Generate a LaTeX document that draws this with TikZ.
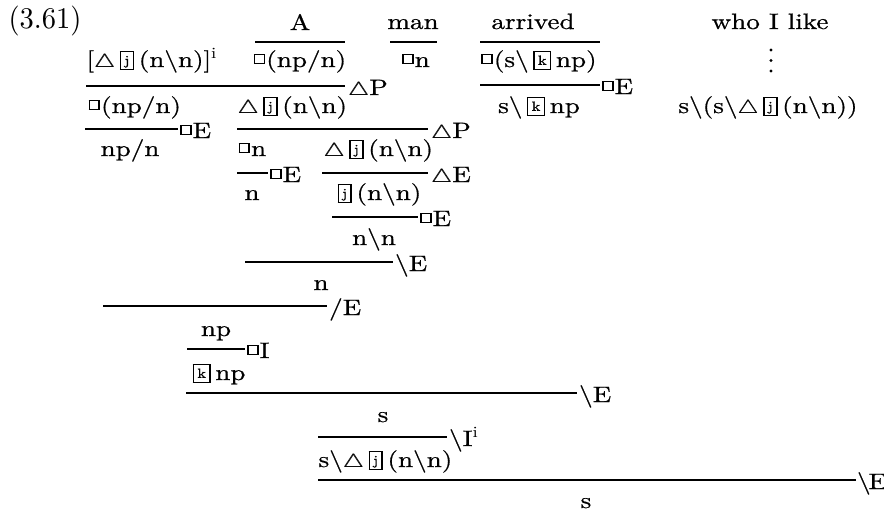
\documentclass[tikz,border=0pt]{standalone}
\usepackage{graphicx}
\usepackage{fontspec}
\setmainfont{lmroman10-regular}[Extension=.otf,BoldFont=lmroman10-regular,BoldFeatures={FakeBold=0.6}]
\newcommand\bs{\textbackslash}
\newcommand\T[1]{\scalebox{0.95}[0.78]{\bfseries #1}}
\newcommand\sq{\raisebox{1.8pt}{\setlength\fboxsep{0pt}\setlength\fboxrule{0.55pt}\fbox{\rule{0pt}{3.6pt}\hspace{3.1pt}}}\hspace{0.4pt}}
\newcommand\tri{\scalebox{0.85}{\rlap{$\triangle$}\kern0.3pt$\triangle$}}
\newcommand\bl[2][4.2pt]{\raisebox{-1pt}{\setlength\fboxsep{0pt}\setlength\fboxrule{0.55pt}\fbox{\makebox[#1][c]{\rule{0pt}{7.6pt}\raisebox{2pt}{\fontsize{6}{7}\selectfont #2}}}}}
\begin{document}
\begin{tikzpicture}[x=0.35pt,y=-0.35pt,
  t/.style={anchor=base,inner sep=0pt,font=\fontsize{10}{12}\selectfont},
  tl/.style={t,anchor=base west},
  rl/.style={line width=0.8pt},
  dot/.style={fill,circle,inner sep=0pt,minimum size=1.1pt},
  lab/.style={anchor=base west,inner sep=0pt,font=\fontsize{10}{12}\selectfont}]
\useasboundingbox (0,0) rectangle (884,516);

% words
\node[tl] (eq) at (8,28) {\scalebox{1}[1.05]{(3.61)}};
\node[t] (wA) at (300,30) {\T{A}};
\node[t] (wman) at (413,29) {\T{man}};
\node[t] (warr) at (533,29) {\T{arrived}};
\node[t] (wwho) at (770,29) {\T{who I like}};
\draw[rl] (255,42) -- (345,42);
\draw[rl] (390,42) -- (437,42);
\draw[rl] (480,42) -- (600,42);

% row 1
\node[tl] (hyp) at (86,67) {\T{[\tri\,\bl{j}\,(n\bs n)]$^{\mathrm{i}}$}};
\node[t] (a1) at (300,67) {\T{\sq(np/n)}};
\node[t] (m1) at (416,67) {\T{\sq n}};
\node[t] (ar1) at (539,67) {\T{\sq(s\bs\,\bl[5.6pt]{k}\,np)}};
\node[dot] (d1) at (771,50) {};
\node[dot] (d2) at (771,60.5) {};
\node[dot] (d3) at (771,71) {};
\draw[rl] (86,86) -- (345,86) node[lab] (l1) at (347,95) {\T{\tri P}};
\draw[rl] (480,85) -- (600,85) node[lab] (l2) at (601,94) {\T{\sq E}};

% row 2
\node[tl] (a2) at (88,113) {\T{\sq(np/n)}};
\node[tl] (h2) at (237,113) {\T{\tri\,\bl{j}\,(n\bs n)}};
\node[t] (ar2) at (539,113) {\T{s\bs\,\bl[5.6pt]{k}\,np}};
\node[t] (who2) at (768,113) {\T{s\bs(s\bs\tri\,\bl{j}\,(n\bs n))}};
\draw[rl] (85,129) -- (178,129) node[lab] (l3) at (179,138) {\T{\sq E}};
\draw[rl] (237,129) -- (428,129) node[lab] (l4) at (430,138) {\T{\tri P}};

% row 3
\node[t] (np1) at (130,156) {\T{np/n}};
\node[tl] (m2) at (238,156) {\T{\sq n}};
\node[tl] (h3) at (323,156) {\T{\tri\,\bl{j}\,(n\bs n)}};
\draw[rl] (237,173) -- (268,173) node[lab] (l5) at (269,182) {\T{\sq E}};
\draw[rl] (322,173) -- (428,173) node[lab] (l6) at (430,182) {\T{\tri E}};

% row 4
\node[t] (n1) at (252,200) {\T{n}};
\node[tl] (h4) at (337,200) {\T{\bl{j}\,(n\bs n)}};
\draw[rl] (332,217) -- (418,217) node[lab] (l7) at (419,226) {\T{\sq E}};

\node[t] (nn) at (374,245) {\T{n\bs n}};
\draw[rl] (245,262) -- (393,262) node[lab] (l8) at (394,271) {\T{\bs E}};

\node[t] (n2) at (321,290) {\T{n}};
\draw[rl] (103,306) -- (327,306) node[lab] (l9) at (328,315) {\T{/E}};

\node[t] (np2) at (216,336) {\T{np}};
\draw[rl] (187,349) -- (245,349) node[lab] (l10) at (246,358) {\T{\sq I}};

\node[tl] (knp) at (192,380) {\T{\bl[5.6pt]{k}\,np}};
\draw[rl] (186,393) -- (577,393) node[lab] (l11) at (578,402) {\T{\bs E}};

\node[t] (s1) at (383,422) {\T{s}};
\draw[rl] (318,437) -- (447,437) node[lab] (l12) at (448,446) {\T{\bs I$^{\mathrm{i}}$}};

\node[tl] (sh) at (318,467) {\T{s\bs\tri\,\bl{j}\,(n\bs n)}};
\draw[rl] (318,480) -- (856,480) node[lab] (l13) at (856,489) {\T{\bs\kern-0.8pt E}};

\node[t] (s2) at (586,508) {\T{s}};
\end{tikzpicture}
\end{document}
